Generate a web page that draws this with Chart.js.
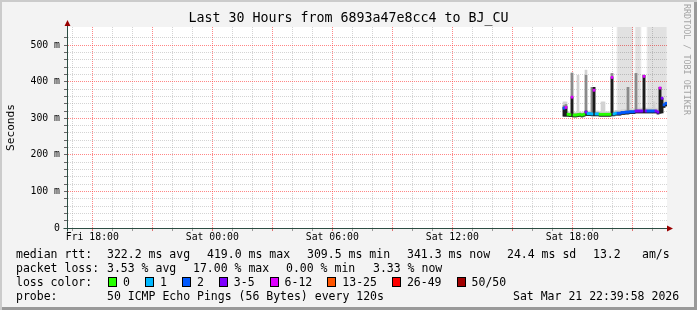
<!DOCTYPE html>
<html>
<head>
<meta charset="utf-8">
<script src="https://cdn.jsdelivr.net/npm/chart.js@4.4.1/dist/chart.umd.min.js"></script>
<style>
  html, body { margin: 0; padding: 0; background: #f3f3f3; }
  #wrap {
    position: relative; width: 697px; height: 310px; overflow: hidden;
    background: #f3f3f3;
    box-shadow: inset 2px 2px 0 #cbcbcb, inset -3px -3px 0 #999;
    font-family: "DejaVu Sans Mono", monospace; color: #000;
  }
  #chart { position: absolute; left: 0; top: 0; }
  .row { position: absolute; left: 0; width: 697px; height: 14px; line-height: 14px; font-size: 11.5px; white-space: pre; }
  .row > span { position: absolute; top: 0; }
  #lossItems { position: absolute; left: 108px; top: 0; display: flex; align-items: center; height: 14px; }
  #lossItems .it { display: flex; align-items: center; margin-right: 15px; }
  #lossItems .box { display: block; width: 7px; height: 8px; border: 1px solid #000; margin-right: 6px; }
  #mark {
    position: absolute; left: 682px; top: 4px; writing-mode: vertical-rl;
    font-size: 8.4px; line-height: 9px; color: #a4a4a4; white-space: pre;
  }
</style>
</head>
<body>
<div id="wrap">
  <canvas id="chart" width="697" height="310"></canvas>
  <div class="row" style="top:247px">
    <span style="left:16px">median rtt:</span><span style="left:107px">322.2 ms avg</span><span style="left:207px">419.0 ms max</span><span style="left:307px">309.5 ms min</span><span style="left:407px">341.3 ms now</span><span style="left:507px">24.4 ms sd</span><span style="left:593px">13.2</span><span style="left:642px">am/s</span>
  </div>
  <div class="row" style="top:261px">
    <span style="left:16px">packet loss:</span><span style="left:107px">3.53 % avg</span><span style="left:193px">17.00 % max</span><span style="left:286px">0.00 % min</span><span style="left:373px">3.33 % now</span>
  </div>
  <div class="row" style="top:275px">
    <span style="left:16px">loss color:</span>
    <div id="lossItems"></div>
  </div>
  <div class="row" style="top:289px">
    <span style="left:16px">probe:</span><span style="left:107px">50 ICMP Echo Pings (56 Bytes) every 120s</span><span style="left:513px">Sat Mar 21 22:39:58 2026</span>
  </div>
  <div id="mark">RRDTOOL / TOBI OETIKER</div>
</div>
<script>
// Zeitachse in Stunden ab Fr 00:00
const xMin = 16.735, xMax = 46.735;
const xLabelHours = [18, 24, 30, 36, 42];
const xLabels = ['Fri 18:00', 'Sat 00:00', 'Sat 06:00', 'Sat 12:00', 'Sat 18:00'];

// Proben (eine Spalte je 6 min) ab Sa 17:35
const sampleStart = 41.585;
const sampleStep = 0.1;

const lossLabels = ['0', '1', '2', '3-5', '6-12', '13-25', '26-49', '50/50'];
const lossColors = ['#26ff00', '#00b8ff', '#0059ff', '#7e00ff', '#dd00ff', '#ff5500', '#ff0000', '#a10000'];

// median rtt (ms)
const med = [328, 330, 311, 310, 358, 309, 309, 310, 311, 309,
             311, 317, 313, 313, 312, 377, 312, 312, 311, 311,
             311, 311, 311, 311, 412, 312, 314, 314, 314, 316,
             316, 317, 317, 318, 318, 318, 320, 320, 320, 320,
             415, 320, 320, 320, 320, 320, 320, 317, 383, 355,
             337, 341];
// Verlust-Klasse (Index in lossColors)
const loss = [2, 4, 0, 0, 4, 0, 0, 0, 0, 0,
              0, 3, 1, 1, 1, 4, 1, 1, 0, 0,
              0, 0, 0, 0, 4, 1, 1, 2, 2, 2,
              2, 2, 2, 2, 2, 2, 3, 3, 3, 3,
              4, 3, 2, 2, 2, 2, 3, 3, 4, 3,
              2, 2];
// Rauch: Untergrenze und drei Schichten (hell, mittel, dunkel)
const smokeLo = [306, 306, 306, 305, 305, 304, 304, 305, 306, 304,
                 306, 308, 308, 308, 307, 307, 307, 307, 306, 306,
                 306, 306, 306, 306, 307, 307, 309, 309, 309, 311,
                 311, 312, 312, 313, 313, 313, 315, 315, 315, 315,
                 315, 315, 315, 315, 315, 315, 315, 312, 314, 315,
                 330, 334];
const lightHi = [345, 345, 318, 317, 424, 316, 316, 418, 318, 316,
                 318, 432, 320, 320, 385, 385, 320, 320, 318, 345,
                 345, 318, 318, 318, 423, 320, 322, 322, 322, 324,
                 324, 325, 385, 326, 326, 326, 423, 328, 328, 328,
                 418, 328, 328, 328, 328, 345, 328, 326, 385, 358,
                 345, 348];
const midHi = [335, 338, 314, 313, 424, 312, 312, 313, 314, 312,
               314, 418, 316, 316, 385, 385, 315, 315, 314, 314,
               314, 314, 314, 314, 423, 315, 317, 317, 317, 319,
               319, 320, 385, 321, 321, 321, 423, 323, 323, 323,
               418, 323, 323, 323, 323, 323, 323, 320, 385, 355,
               340, 344];
const darkHi = [330, 332, 312, 311, 358, 310, 310, 311, 312, 310,
                312, 320, 314, 314, 314, 385, 313, 313, 312, 312,
                312, 312, 312, 312, 412, 313, 315, 315, 315, 317,
                317, 318, 319, 319, 319, 319, 321, 321, 321, 321,
                418, 321, 321, 321, 321, 321, 321, 318, 385, 355,
                338, 342];
// einzelne Pings ueber dem Diagrammrand
const outlierHi = [null, null, null, null, null, null, null, null, null, null,
                   null, null, null, null, null, null, null, null, null, null,
                   null, null, null, null, null, null, null, 600, 600, 600,
                   600, 600, 600, 600, 600, null, 600, 600, 600, null,
                   null, null, 600, 600, 600, 600, 600, 600, 600, 600,
                   600, 600];

const times = med.map((_, i) => sampleStart + i * sampleStep);
const range = (lo, hi) => times.map((t, i) => ({ x: t, y: hi[i] == null ? null : [lo[i], hi[i]] }));

const gridMinor = 'rgba(143,143,143,0.38)';
const gridMajor = 'rgba(255,60,60,0.62)';
const axisColor = '#2c4d43';
const mono = 'DejaVu Sans Mono';

Chart.defaults.font.family = mono;
Chart.defaults.color = '#000';

// Legende Verlustfarben
const $ = id => document.getElementById(id);
lossLabels.forEach((l, i) => {
  $('lossItems').innerHTML += `<span class="it"><span class="box" style="background:${lossColors[i]}"></span>${l}</span>`;
});

const barBase = { type: 'bar', grouped: false, barPercentage: 1, categoryPercentage: 1, borderWidth: 0 };

const plotBg = {
  id: 'plotBg',
  beforeDraw(chart) {
    const { ctx, chartArea: a } = chart;
    ctx.save();
    ctx.fillStyle = '#fff';
    ctx.fillRect(a.left, a.top, a.right - a.left, a.bottom - a.top);
    ctx.restore();
  }
};

const arrows = {
  id: 'arrows',
  afterDraw(chart) {
    const { ctx, chartArea: a } = chart;
    const x0 = Math.round(a.left) + 0.5, y0 = Math.round(a.bottom) + 0.5;
    ctx.save();
    ctx.strokeStyle = axisColor;
    ctx.lineWidth = 1;
    ctx.beginPath();
    ctx.moveTo(x0, y0 + 3); ctx.lineTo(x0, a.top - 4);
    ctx.moveTo(x0 - 4, y0); ctx.lineTo(a.right + 4, y0);
    ctx.stroke();
    ctx.fillStyle = '#990000';
    ctx.beginPath();
    ctx.moveTo(x0, a.top - 7); ctx.lineTo(x0 - 3, a.top - 1); ctx.lineTo(x0 + 3, a.top - 1); ctx.closePath();
    ctx.moveTo(a.right + 6, y0); ctx.lineTo(a.right, y0 - 3); ctx.lineTo(a.right, y0 + 3); ctx.closePath();
    ctx.fill();
    ctx.restore();
  }
};

new Chart($('chart'), {
  type: 'bar',
  data: {
    datasets: [
      { ...barBase, label: 'median', order: 0, data: times.map((t, i) => ({ x: t, y: [med[i] - 3, med[i] + 3] })),
        backgroundColor: loss.map(k => lossColors[k]) },
      { ...barBase, label: 'smoke dark', order: 1, data: range(smokeLo, darkHi), backgroundColor: '#1c1c1c' },
      { ...barBase, label: 'smoke mid', order: 2, data: range(smokeLo, midHi), backgroundColor: '#8a8a8a' },
      { ...barBase, label: 'smoke light', order: 3, data: range(smokeLo, lightHi), backgroundColor: '#d2d2d2' },
      { ...barBase, label: 'outliers', order: 4, data: range(smokeLo, outlierHi), backgroundColor: 'rgba(0,0,0,0.09)' }
    ]
  },
  options: {
    responsive: false,
    animation: false,
    layout: { padding: 0 },
    plugins: {
      legend: { display: false },
      tooltip: { enabled: false },
      title: {
        display: true,
        text: 'Last 30 Hours from 6893a47e8cc4 to BJ_CU',
        font: { family: mono, size: 13.3, weight: 'normal' },
        color: '#000',
        padding: { top: 11.04, bottom: 0 }
      }
    },
    scales: {
      x: {
        type: 'linear', min: xMin, max: xMax, offset: false,
        afterBuildTicks: s => {
          const t = [];
          for (let h = Math.ceil(xMin); h <= xMax; h++) t.push({ value: h });
          s.ticks = t;
        },
        afterFit: s => { s.height = 82; },
        ticks: {
          autoSkip: false, maxRotation: 0, padding: 1,
          font: { family: mono, size: 9.8 }, color: '#000',
          callback: v => { const k = xLabelHours.indexOf(v); return k >= 0 ? xLabels[k] : ''; }
        },
        grid: {
          offset: false,
          color: c => (c.tick && c.tick.value % 3 === 0) ? gridMajor : gridMinor,
          tickColor: c => (c.tick && c.tick.value % 3 === 0) ? '#e07070' : '#999',
          tickLength: 3
        },
        border: { color: axisColor, dash: [1, 1] }
      },
      y: {
        type: 'linear', min: 0, max: 550,
        afterBuildTicks: s => { s.ticks = s.ticks.filter(t => t.value % 20 === 0); },
        afterFit: s => { s.width = 67; },
        ticks: {
          stepSize: 20, autoSkip: false, padding: 4,
          font: { family: mono, size: 9.8 }, color: '#000',
          callback: v => v % 100 ? '' : (v === 0 ? '0' : v + ' m')
        },
        grid: {
          color: c => (c.tick && c.tick.value % 100 === 0) ? gridMajor : gridMinor,
          tickColor: '#666', tickLength: 3
        },
        border: { color: axisColor, dash: [1, 1] },
        title: {
          display: true, text: 'Seconds',
          font: { family: mono, size: 11.1 }, color: '#000',
          padding: { top: 4, bottom: 0 }
        }
      },
      yRight: {
        type: 'linear', position: 'right', display: true,
        afterFit: s => { s.width = 30; },
        ticks: { display: false },
        grid: { display: false, drawTicks: false },
        border: { display: false }
      }
    }
  },
  plugins: [plotBg, arrows]
});
</script>
</body>
</html>
